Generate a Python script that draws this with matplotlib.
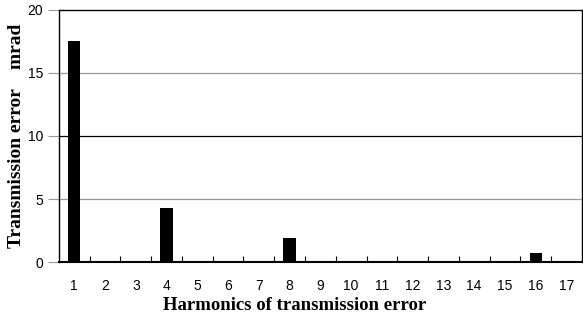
import matplotlib
matplotlib.use("Agg")
import matplotlib.pyplot as plt
import numpy as np

harmonics = list(range(1, 18))
error = [17.5, 0, 0, 4.3, 0.1, 0, 0, 1.9, 0, 0, 0, 0, 0, 0, 0, 0.75, 0]

fig = plt.figure(figsize=(5.83, 3.2), dpi=100)
ax = fig.add_axes([0.101, 0.181, 0.897, 0.788])

x = np.arange(len(harmonics))
ax.bar(x, error, width=0.4, color="black", zorder=3)

ax.set_xlim(-0.5, len(harmonics) - 0.5)
ax.set_ylim(0, 20)
ax.set_yticks([0, 5, 10, 15, 20])
for v, c in [(5, "#999999"), (10, "black"), (15, "#999999")]:
    ax.axhline(v, color=c, lw=0.9, zorder=1)

# category labels at centres, tick marks at boundaries
ax.set_xticks(x)
ax.set_xticklabels([str(h) for h in harmonics], family="Liberation Sans", fontsize=10)
ax.tick_params(axis="x", which="major", length=0, pad=12)
ax.set_xticks(np.arange(0.5, len(harmonics) - 0.5), minor=True)
ax.tick_params(axis="x", which="minor", direction="in", length=4, width=0.8)
ax.tick_params(axis="y", direction="out", length=8, width=0.8, color="#999999", labelsize=10)
for lab in ax.get_yticklabels():
    lab.set_family("Liberation Sans")

for s in ax.spines.values():
    s.set_linewidth(1.0)
ax.spines["bottom"].set_linewidth(1.5)

ax.set_xlabel("Harmonics of transmission error", family="Liberation Serif",
              fontweight="bold", fontsize=13.5)
ax.xaxis.set_label_coords(0.451, -0.14)
ax.set_ylabel("Transmission error    mrad", family="Liberation Serif",
              fontweight="bold", fontsize=14)
ax.yaxis.set_label_coords(-0.065, 0.5)

fig.savefig("out.png", dpi=100)
